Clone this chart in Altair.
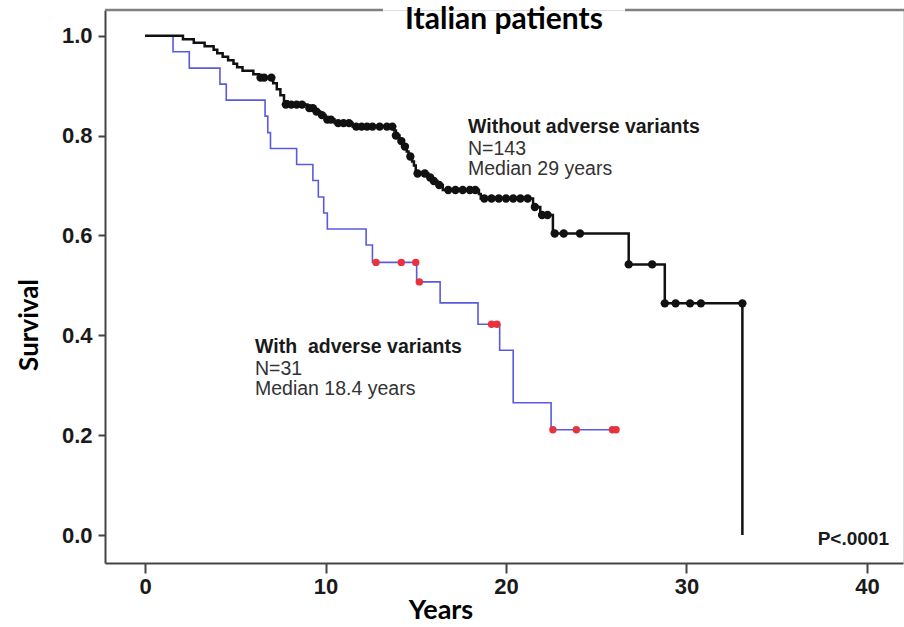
import altair as alt
import pandas as pd

# ---- data ----
# Black curve: without adverse variants (step change points)
black_t = [0, 2.1, 2.7, 3.3, 3.8, 4.0, 4.3, 4.6, 4.9, 5.1, 5.4, 6.0, 6.3, 7.1, 7.3, 7.5, 7.7, 7.9,
           9.0, 9.4, 9.7, 10.0, 10.5, 11.5, 13.8, 13.9, 14.1, 14.3, 14.5, 14.6, 14.8, 14.9, 15.0,
           15.7, 15.9, 16.2, 16.5, 18.5, 18.6, 21.5, 21.9, 22.6, 26.8, 28.8, 33.1]
black_s = [1.0, 0.993, 0.986, 0.979, 0.972, 0.965, 0.958, 0.951, 0.944, 0.937, 0.930, 0.923, 0.916,
           0.905, 0.893, 0.881, 0.869, 0.862, 0.855, 0.848, 0.841, 0.832, 0.825, 0.818, 0.810, 0.800,
           0.789, 0.778, 0.768, 0.758, 0.748, 0.740, 0.724, 0.716, 0.709, 0.701, 0.691, 0.683, 0.674,
           0.657, 0.641, 0.604, 0.542, 0.464, 0.0]
# censored marks on black curve
black_ct = [6.4, 6.6, 7.0, 7.8, 8.1, 8.4, 8.7, 9.1, 9.3, 9.5, 9.8, 10.1, 10.3, 10.7, 11.0, 11.3, 11.7,
            12.0, 12.3, 12.6, 13.0, 13.4, 13.7, 13.9, 14.2, 14.4, 14.7, 15.1, 15.5, 15.8, 16.0, 16.3,
            16.8, 17.2, 17.6, 18.0, 18.3, 18.8, 19.2, 19.6, 20.0, 20.4, 20.8, 21.2, 21.6, 22.0, 22.3,
            22.7, 23.2, 24.1, 26.8, 28.1, 28.8, 29.4, 30.2, 30.8, 33.1]
black_cs = [0.916, 0.916, 0.916, 0.862, 0.862, 0.862, 0.862, 0.855, 0.855, 0.848, 0.841, 0.832, 0.832,
            0.825, 0.825, 0.825, 0.818, 0.818, 0.818, 0.818, 0.818, 0.818, 0.818, 0.800, 0.789, 0.778,
            0.758, 0.724, 0.724, 0.716, 0.709, 0.701, 0.691, 0.691, 0.691, 0.691, 0.691, 0.674, 0.674,
            0.674, 0.674, 0.674, 0.674, 0.674, 0.657, 0.641, 0.641, 0.604, 0.604, 0.604, 0.542, 0.542,
            0.464, 0.464, 0.464, 0.464, 0.464]

# Blue curve: with adverse variants
blue_t = [0, 1.55, 2.45, 4.15, 4.5, 6.65, 6.8, 6.95, 8.4, 9.3, 9.6, 9.9, 10.1, 12.25, 12.6, 15.05,
          16.35, 18.45, 19.65, 20.4, 22.5, 26.1]
blue_s = [1.0, 0.968, 0.935, 0.903, 0.871, 0.839, 0.806, 0.774, 0.742, 0.710, 0.677, 0.645, 0.613,
          0.581, 0.546, 0.507, 0.465, 0.422, 0.370, 0.265, 0.211, 0.211]
red_ct = [12.8, 14.2, 15.0, 15.2, 19.2, 19.5, 22.6, 23.9, 25.9, 26.1]
red_cs = [0.546, 0.546, 0.546, 0.507, 0.422, 0.422, 0.211, 0.211, 0.211, 0.211]

x_ticks = [0, 10, 20, 30, 40]
y_ticks = [0.0, 0.2, 0.4, 0.6, 0.8, 1.0]

# ---- chart ----
xs = alt.Scale(domain=[-2.22, 42.0], nice=False, zero=False)
ys = alt.Scale(domain=[-0.056, 1.0515], nice=False, zero=False)

xax = alt.Axis(values=x_ticks, title=None, grid=False, labelFont="Liberation Sans", labelFontWeight="bold",
               labelFontSize=22, labelColor="#1a1a1a", tickSize=10, tickWidth=2, tickColor="#444",
               domainColor="#444", domainWidth=2, labelPadding=3, format="d")
yax = alt.Axis(values=y_ticks, title=None, grid=False, labelFont="Liberation Sans", labelFontWeight="bold",
               labelFontSize=22, labelColor="#1a1a1a", tickSize=7, tickWidth=2, tickColor="#444",
               domainColor="#444", domainWidth=2, labelPadding=6, format=".1f")

black_df = pd.DataFrame({"t": black_t, "s": black_s})
blue_df = pd.DataFrame({"t": blue_t, "s": blue_s})
bc_df = pd.DataFrame({"t": black_ct, "s": black_cs})
rc_df = pd.DataFrame({"t": red_ct, "s": red_cs})

blue_line = alt.Chart(blue_df).mark_line(interpolate="step-after", color="#5a5ae0", strokeWidth=1.6).encode(
    x=alt.X("t:Q", scale=xs, axis=xax), y=alt.Y("s:Q", scale=ys, axis=yax))
black_line = alt.Chart(black_df).mark_line(interpolate="step-after", color="#111111", strokeWidth=2.5).encode(
    x=alt.X("t:Q", scale=xs), y=alt.Y("s:Q", scale=ys))
red_pts = alt.Chart(rc_df).mark_circle(color="#e8333c", size=55, opacity=1).encode(
    x=alt.X("t:Q", scale=xs), y=alt.Y("s:Q", scale=ys))
black_pts = alt.Chart(bc_df).mark_circle(color="#111111", size=70, opacity=1).encode(
    x=alt.X("t:Q", scale=xs), y=alt.Y("s:Q", scale=ys))

def txt(s, x, y, size=19.5, weight="normal", color="#1a1a1a", align="left", font="Liberation Sans",
        angle=0, baseline="alphabetic"):
    kw = dict(text=s, fontSize=size, fontWeight=weight, color=color, align=align, font=font,
              baseline=baseline)
    if angle:
        kw["angle"] = angle
    return alt.Chart(pd.DataFrame({"a": [0]})).mark_text(**kw).encode(x=alt.value(x), y=alt.value(y))

texts = [
    txt("Without adverse variants", 363, 123, weight="bold"),
    txt("N=143", 363, 145, color="#333333"),
    txt("Median 29 years", 363, 165, color="#333333"),
    txt("With\u00a0 adverse variants", 150, 343, weight="bold"),
    txt("N=31", 150, 365, color="#333333"),
    txt("Median 18.4 years", 150, 385, color="#333333"),
    txt("P<.0001", 784, 535, size=19, weight="bold", align="right"),
    txt("Italian patients", 399, 19, size=30, weight="bold", align="center", font="Lato", color="#000000"),
    txt("Survival", -75, 315, size=26, weight="bold", align="center", font="Lato", angle=270,
        baseline="middle", color="#000000"),
    txt("Years", 336, 615, size=27, weight="bold", align="center", font="Lato", baseline="bottom",
        color="#000000"),
]

def seg(x1, x2, y):
    return alt.Chart(pd.DataFrame({"a": [0]})).mark_rule(color="#808080", strokeWidth=2.5).encode(
        x=alt.value(x1), x2=alt.value(x2), y=alt.value(y))

top_left = seg(0, 278, 0)
top_right = seg(520, 800, 0)

chart = alt.layer(blue_line, black_line, red_pts, black_pts, top_left, top_right, *texts).properties(
    width=798, height=553,
    autosize=alt.AutoSizeParams(type="none"),
    padding={"left": 105, "top": 10, "right": 1, "bottom": 64},
).configure_view(strokeWidth=0).configure(background="white")

chart.save("out.html", embed_options={"renderer": "svg", "actions": False})
